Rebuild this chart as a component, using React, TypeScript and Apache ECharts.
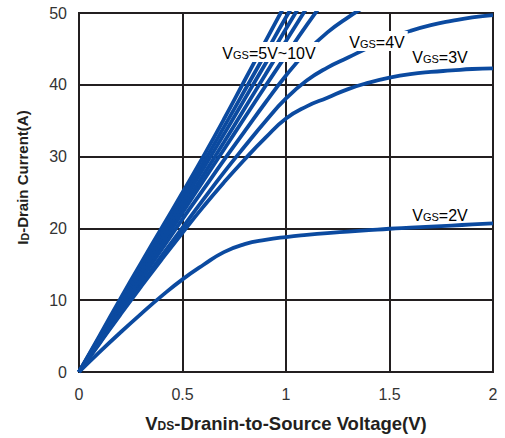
import React, { useEffect, useRef } from "react";
import * as echarts from "echarts";

// x positions (V_DS, volts) shared by every curve
const vds = [0, 0.1, 0.2, 0.3, 0.4, 0.5, 0.6, 0.7, 0.8, 0.9, 1.0, 1.1, 1.2, 1.3, 1.4, 1.5, 1.6, 1.7, 1.8, 1.9, 2.0];

// I_D (A), one list per gate voltage
const id10V = [0, 5.1, 10.2, 15.2, 20.1, 25.0, 30.0, 35.2, 40.6, 46.0, 51.4];
const id9V = [0, 4.9, 9.8, 14.7, 19.5, 24.3, 29.1, 34.1, 39.2, 44.3, 49.4, 54.2];
const id8V = [0, 4.8, 9.5, 14.2, 18.9, 23.6, 28.3, 33.1, 38.0, 42.9, 47.8, 52.6];
const id7V = [0, 4.6, 9.2, 13.8, 18.4, 22.9, 27.4, 32.0, 36.7, 41.4, 46.1, 50.7];
const id6V = [0, 4.5, 8.9, 13.4, 17.8, 22.2, 26.6, 31.0, 35.4, 39.8, 44.1, 48.3, 52.3];
const id5V = [0, 4.3, 8.6, 12.9, 17.1, 21.3, 25.4, 29.5, 33.5, 37.5, 41.3, 44.6, 47.3, 49.4, 51.2];
const id4V = [0, 4.1, 8.2, 12.2, 16.2, 20.1, 24.0, 27.8, 31.4, 34.9, 38.1, 40.6, 42.4, 43.8, 45.2, 46.5, 47.5, 48.3, 48.9, 49.4, 49.7];
const id3V = [0, 4.0, 8.0, 11.9, 15.7, 19.4, 23.0, 26.4, 29.6, 32.6, 35.3, 37.0, 38.2, 39.4, 40.3, 41.0, 41.5, 41.8, 42.0, 42.2, 42.3];
const id2V = [0, 2.8, 5.5, 8.1, 10.6, 12.9, 14.9, 16.7, 17.8, 18.4, 18.8, 19.1, 19.35, 19.55, 19.75, 19.95, 20.1, 20.25, 20.4, 20.55, 20.7];

const curves = [id10V, id9V, id8V, id7V, id6V, id5V, id4V, id3V, id2V];

const xTicks = { min: 0, max: 2, interval: 0.5 };
const yTicks = { min: 0, max: 50, interval: 10 };

const LINE = "#0b4aa0";
const INK = "#231f20";
const FONT = "'Liberation Sans', Arial, sans-serif";

export default function App() {
  const ref = useRef<HTMLDivElement>(null);
  useEffect(() => {
    if (!ref.current) return;
    const chart = echarts.init(ref.current, undefined, { renderer: "svg" });
    const labelRich = {
      v: { fontSize: 16, fontFamily: FONT, color: "#231f20", verticalAlign: "bottom", lineHeight: 18 },
      s: { fontSize: 11, fontFamily: FONT, color: "#231f20", verticalAlign: "bottom", lineHeight: 18, padding: [0, 0, 1, 0] },
    };
    const mkLabel = (txt: string, x: number, y: number, bg: boolean) => ({
      type: "text",
      x,
      y,
      z: 100,
      style: {
        text: `{v|V}{s|GS}{v|=${txt}}`,
        rich: labelRich,
        align: "center",
        verticalAlign: "middle",
        backgroundColor: bg ? "#fff" : "transparent",
        padding: [1, 3, 1, 3],
      },
    });
    chart.setOption({
      animation: false,
      backgroundColor: "#fff",
      grid: {
        left: 79,
        right: 12,
        top: 13,
        bottom: 65,
        show: true,
        borderColor: INK,
        borderWidth: 2,
        backgroundColor: "transparent",
      },
      xAxis: {
        type: "value",
        ...xTicks,
        axisLine: { show: false },
        axisTick: { show: false },
        splitLine: { show: true, lineStyle: { color: INK, width: 2 } },
        axisLabel: { color: "#333", fontSize: 16, fontFamily: FONT, margin: 14 },
        name: "{b|V}{s|DS}{b|-Dranin-to-Source Voltage(V)}",
        nameLocation: "middle",
        nameGap: 42,
        nameTextStyle: {
          rich: {
            b: { fontSize: 18.5, fontWeight: "bold", fontFamily: FONT, color: "#231f20" },
            s: { fontSize: 12, fontWeight: "bold", fontFamily: FONT, color: "#231f20", padding: [5, 0, 0, 0] },
          },
        },
      },
      yAxis: {
        type: "value",
        ...yTicks,
        axisLine: { show: false },
        axisTick: { show: false },
        splitLine: { show: true, lineStyle: { color: INK, width: 2 } },
        axisLabel: { color: "#333", fontSize: 16, fontFamily: FONT, margin: 12 },
        name: "{b|I}{s|D}{b|-Drain Current(A)}",
        nameLocation: "middle",
        nameGap: 49,
        nameTextStyle: {
          padding: [0, 0, 0, 30],
          rich: {
            b: { fontSize: 15, fontWeight: "bold", fontFamily: FONT, color: "#231f20" },
            s: { fontSize: 10.5, fontWeight: "bold", fontFamily: FONT, color: "#231f20", padding: [4, 0, 0, 0] },
          },
        },
      },
      series: curves.map((c) => ({
        type: "line",
        smooth: true,
        showSymbol: false,
        clip: true,
        lineStyle: { color: LINE, width: 3.8 },
        data: c.map((y, i) => [vds[i], y]),
      })),
      graphic: [
        mkLabel("5V~10V", 269, 52, true),
        mkLabel("4V", 377, 41, true),
        mkLabel("3V", 440, 56, false),
        mkLabel("2V", 440, 214, false),
      ],
    });
    return () => chart.dispose();
  }, []);
  return <div ref={ref} style={{ position: "fixed", left: 0, top: 0, width: 505, height: 438 }} />;
}
